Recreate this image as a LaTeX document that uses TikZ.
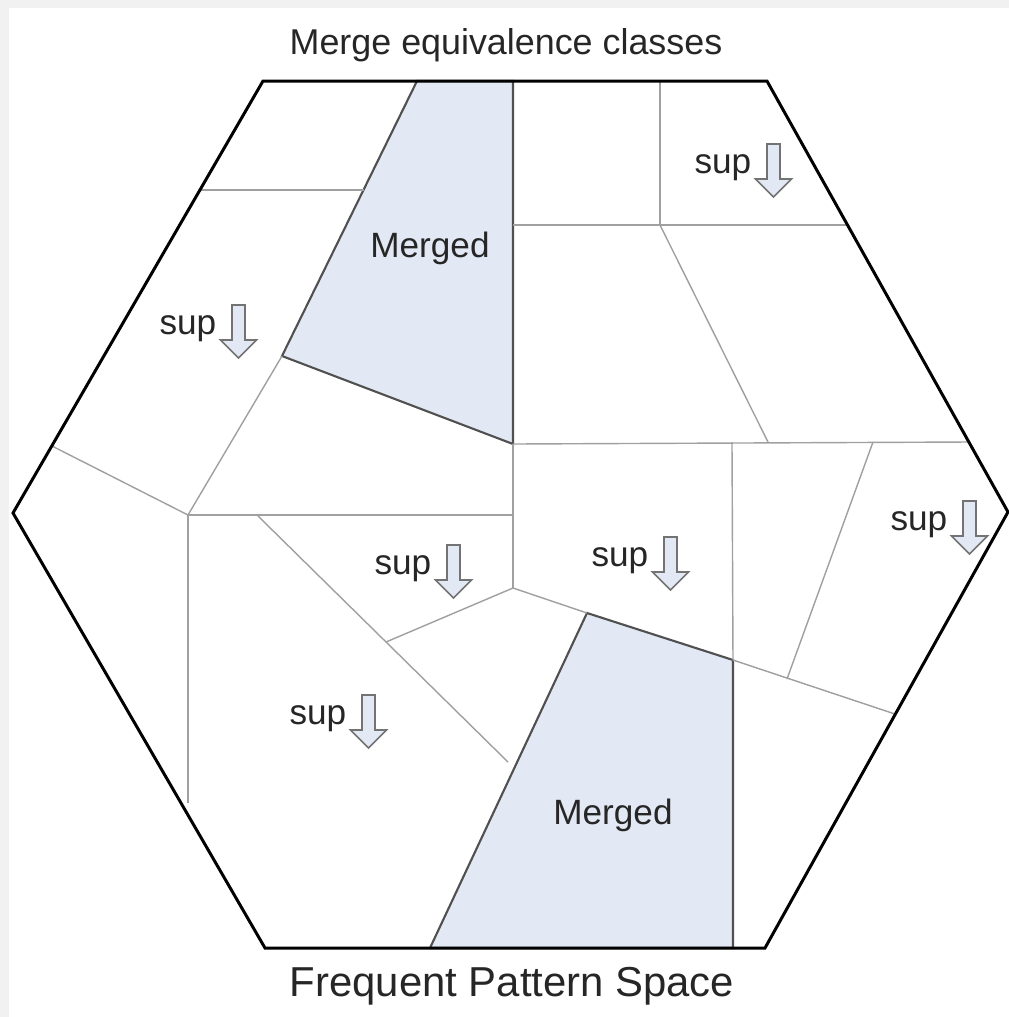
\documentclass[tikz,border=0pt]{standalone}
\usepackage{fontspec}
\setmainfont{Liberation Sans}
\usepackage{tikz}
\usetikzlibrary{positioning, calc}
\definecolor{mergefill}{HTML}{E3E9F4}
\definecolor{mergeline}{HTML}{505050}
\definecolor{cellline}{HTML}{A0A0A0}
\definecolor{pagegray}{HTML}{F1F1F1}
\tikzset{
	hexline/.style={
			draw=black,
			line width=0.85pt,
			line join=miter
		},
	cellline/.style={
			draw=cellline,
			line width=0.4pt
		},
	mergedcell/.style={
			draw=mergeline,
			fill=mergefill,
			line width=0.6pt
		},
	labeltext/.style={
			font=\fontsize{10}{12}\selectfont,
			text=black!85,
			inner sep=0pt
		},
	suparrow/.style={
			draw=mergeline!80,
			fill=mergefill,
			line width=0.45pt,
			line join=miter
		}
}
\tikzset{
	supdown/.pic={
			\node[labeltext, anchor=base east] (-txt) at (0,0) {sup};
			\draw[suparrow] (15,-29) -- (28,-29) -- (28,6) -- (39.5,6) -- (21.5,24)
				-- (3.5,6) -- (15,6) -- cycle;
		}
}

\begin{document}
\begin{tikzpicture}[x=0.01cm, y=-0.01cm]
			\useasboundingbox (0,0) rectangle (1009,1017);
			\fill[pagegray] (0,0) rectangle (1009,1017);
			\fill[white] (9,8) rectangle (1009,1017);

			% hexagon corners
			\coordinate (h1) at (263,81);
			\coordinate (h2) at (767,81);
			\coordinate (h3) at (1008,512);
			\coordinate (h4) at (765,948);
			\coordinate (h5) at (265,948);
			\coordinate (h6) at (13,513);

			% inner points
			\coordinate (j1) at (188,515);
			\coordinate (j2) at (513,588);
			\coordinate (m1) at (417,81);
			\coordinate (m2) at (513,81);
			\coordinate (m3) at (513,444);
			\coordinate (m4) at (282,356);
			\coordinate (n1) at (587,613);
			\coordinate (n2) at (733,660);
			\coordinate (n3) at (733,948);
			\coordinate (n4) at (430,948);

			\draw[mergedcell] (m1) -- (m2) -- (m3) -- (m4) -- cycle;
			\draw[mergedcell] (n1) -- (n2) -- (n3) -- (n4) -- cycle;

			\draw[cellline] (200,190) -- (364,190);
			\draw[cellline] (52,446) -- (j1);
			\draw[cellline] (j1) -- (m4);
			\draw[cellline] (j1) -- (513,515);
			\draw[cellline] (j1) -- (188,803);
			\draw[cellline] (257,515) -- (508,762);
			\draw[cellline] (386,642) -- (j2);
			\draw[cellline] (m3) -- (j2);
			\draw[cellline] (j2) -- (n1);
			\draw[cellline] (n2) -- (895,714);
			\draw[cellline] (m3) -- (969,442);
			\draw[cellline] (660,81) -- (660,225);
			\draw[cellline] (513,225) -- (847,225);
			\draw[cellline] (660,225) -- (768,442);
			\draw[cellline] (732,442) -- (n2);
			\draw[cellline] (873,442) -- (787,679);

			\draw[hexline] (h1) -- (h2) -- (h3) -- (h4) -- (h5) -- (h6) -- cycle;

			\node[labeltext] (top) at (430,248) {Merged};
			\node[labeltext] (bot) at (613,815) {Merged};

			\pic (s1) at (752,173) {supdown};
			\pic (s2) at (217,334) {supdown};
			\pic (s3) at (432,574) {supdown};
			\pic (s4) at (649,566) {supdown};
			\pic (s5) at (948,530) {supdown};
			\pic (s6) at (347,724) {supdown};

			\node[font=\fontsize{10.2}{12}\selectfont, text=black!85] (title) at (506,45) {Merge equivalence classes};
			\node[font=\fontsize{11.9}{14}\selectfont, text=black!85] (space) at (512,986) {Frequent Pattern Space};

		\end{tikzpicture}
\end{document}
